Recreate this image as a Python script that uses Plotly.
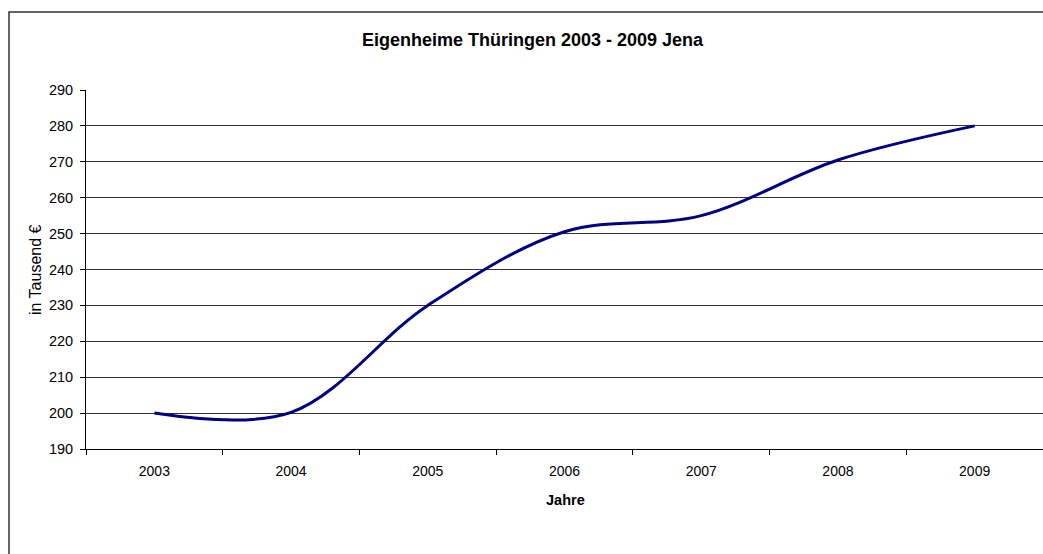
import plotly.graph_objects as go

years = ["2003", "2004", "2005", "2006", "2007", "2008", "2009"]
values = [200, 200.2, 230, 250.5, 255, 270.5, 280]
y_ticks = list(range(190, 300, 10))

W, H = 1043, 554
L, T, R, B = 86, 90, 0, 105
pw = W - L - R
ph = H - T - B

def px_x(x):
    return (x - L) / pw

def px_y(y):
    return 1 - (y - T) / ph

font_family = "Liberation Sans, Arial, sans-serif"

fig = go.Figure()
fig.add_trace(go.Scatter(
    x=years, y=values, mode="lines",
    line=dict(color="#000080", width=3, shape="spline", smoothing=1),
    hoverinfo="skip", showlegend=False,
))

fig.update_layout(
    width=W, height=H,
    margin=dict(l=L, t=T, r=R, b=B),
    paper_bgcolor="white", plot_bgcolor="white",
    font=dict(family=font_family, size=14, color="black"),
    xaxis=dict(
        type="category", tickson="boundaries", range=[-0.5, 6.5],
        showgrid=False, showline=True, linecolor="black", linewidth=1,
        ticks="outside", ticklen=5, tickcolor="black",
        ticklabelstandoff=9,
        tickfont=dict(size=14), zeroline=False, fixedrange=True,
    ),
    yaxis=dict(
        range=[190, 290], tickvals=y_ticks,
        showgrid=True, gridcolor="#333333", gridwidth=1,
        showline=True, linecolor="black", linewidth=1,
        ticks="outside", ticklen=5, tickcolor="black",
        ticklabelstandoff=4,
        tickfont=dict(size=14.5), zeroline=False, fixedrange=True,
    ),
    shapes=[dict(
        type="rect", xref="paper", yref="paper",
        x0=px_x(9), x1=px_x(1060), y0=px_y(575), y1=px_y(12),
        line=dict(color="#333333", width=1.5), layer="below",
    )],
    annotations=[
        dict(text="<b>Eigenheime Thüringen 2003 - 2009 Jena</b>",
             xref="paper", yref="paper", x=px_x(533), y=px_y(40),
             showarrow=False, xanchor="center", yanchor="middle",
             font=dict(size=18)),
        dict(text="in Tausend €", textangle=-90,
             xref="paper", yref="paper", x=px_x(35), y=px_y(270),
             showarrow=False, xanchor="center", yanchor="middle",
             font=dict(size=16)),
        dict(text="<b>Jahre</b>",
             xref="paper", yref="paper", x=px_x(565), y=px_y(500),
             showarrow=False, xanchor="center", yanchor="middle",
             font=dict(size=14.5)),
    ],
)

fig.write_html("out.html", config={"displayModeBar": False},
               post_script="document.body.style.margin='0px';")
